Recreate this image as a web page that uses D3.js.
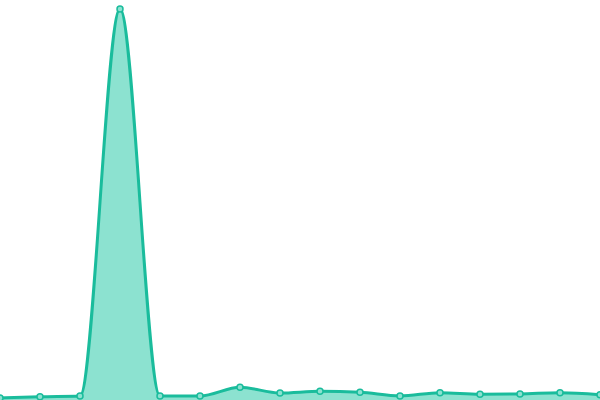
<!DOCTYPE html>
<html>
<head>
<meta charset="utf-8">
<script src="https://cdn.jsdelivr.net/npm/d3@7"></script>
<style>
    html, body { margin: 0; padding: 0; background: #fff; }
    svg { display: block; }
</style>
</head>
<body>
<svg id="chart" width="600" height="400"></svg>
<script>
// values, one per slot
let categories = d3.range(16);
let values = [2, 3.3, 4, 391, 4, 4, 12.7, 7, 8.7, 7.7, 4, 7.3, 5.7, 6, 7.3, 5.3];

let width = 600,
    height = 400;

let data = categories.map((c, i) => ({ c: c, v: values[i] }));

let x = d3.scaleLinear()
    .domain([0, categories.length - 1])
    .range([0, width]);

let y = d3.scaleLinear()
    .domain([0, 400])
    .range([height, 0]);

let svg = d3.select("#chart");

let area = d3.area()
    .curve(d3.curveMonotoneX)
    .x(d => x(d.c))
    .y0(height)
    .y1(d => y(d.v));

let line = d3.line()
    .curve(d3.curveMonotoneX)
    .x(d => x(d.c))
    .y(d => y(d.v));

svg.append("path")
    .datum(data)
    .attr("d", area)
    .attr("fill", "#8ce2d0");

svg.append("path")
    .datum(data)
    .attr("d", line)
    .attr("fill", "none")
    .attr("stroke", "#1abc9c")
    .attr("stroke-width", 3);

svg.selectAll("circle")
    .data(data).enter()
    .append("circle")
    .attr("cx", d => x(d.c))
    .attr("cy", d => y(d.v))
    .attr("r", 3)
    .attr("fill", "#8ce2d0")
    .attr("stroke", "#1abc9c")
    .attr("stroke-width", 1.5);
</script>
</body>
</html>
